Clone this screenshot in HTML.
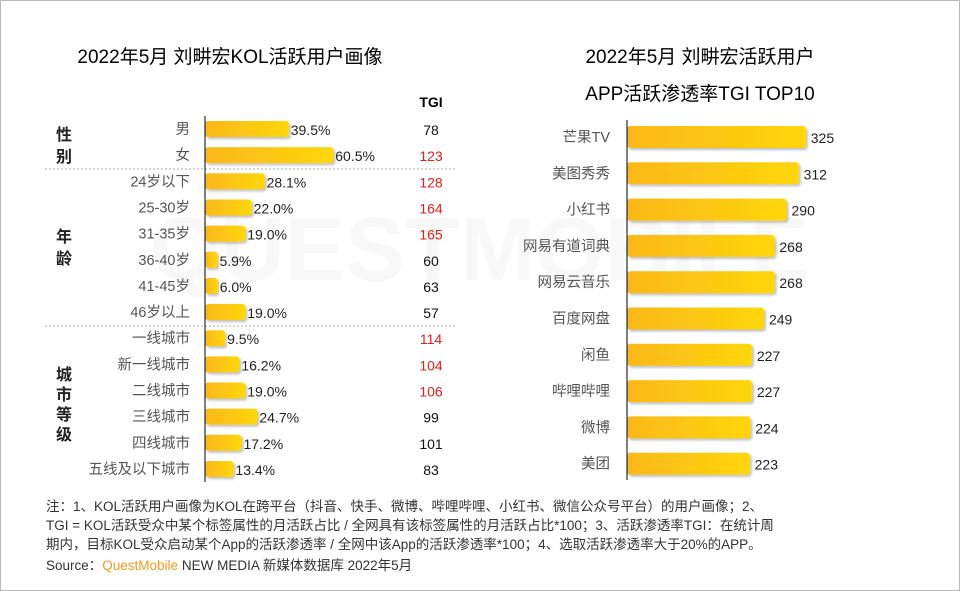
<!DOCTYPE html>
<html><head><meta charset="utf-8"><style>
body{margin:0;background:#fff}
svg{display:block;font-family:"Liberation Sans","Noto Sans CJK SC",sans-serif}
</style></head><body>
<svg id="c" width="960" height="591" viewBox="0 0 960 591">
<defs><linearGradient id="g" x1="0" x2="1"><stop offset="0" stop-color="#fbb81a"/><stop offset="1" stop-color="#fed60b"/></linearGradient>
<filter id="sh" x="-5%" y="-20%" width="115%" height="160%"><feDropShadow dx="2" dy="2" stdDeviation="1.2" flood-color="#000" flood-opacity="0.25"/></filter></defs>
<rect x="0.5" y="0.5" width="959" height="590" fill="#fff" stroke="#bbb"/>
<text x="480" y="280" font-size="90" fill="#f8f8f8" text-anchor="middle" font-weight="bold">QUESTMOBILE</text>
<text x="230" y="63" font-size="19" text-anchor="middle" fill="#000">2022年5月 刘畊宏KOL活跃用户画像</text>
<text x="700" y="63" font-size="19" text-anchor="middle" fill="#000">2022年5月 刘畊宏活跃用户</text>
<text x="700" y="100" font-size="19" text-anchor="middle" fill="#000">APP活跃渗透率TGI TOP10</text>
<text x="431" y="107" font-size="14" font-weight="bold" text-anchor="middle">TGI</text>
<line x1="45" x2="455" y1="169" y2="169" stroke="#aaa" stroke-dasharray="2,2"/>
<line x1="45" x2="455" y1="326" y2="326" stroke="#aaa" stroke-dasharray="2,2"/>
<g font-size="16" font-weight="bold" fill="#222" text-anchor="middle">
<text x="64" y="140"><tspan x="64">性</tspan><tspan x="64" dy="22">别</tspan></text>
<text x="64" y="242"><tspan x="64">年</tspan><tspan x="64" dy="22">龄</tspan></text>
<text x="64" y="380"><tspan x="64">城</tspan><tspan x="64" dy="20">市</tspan><tspan x="64" dy="20">等</tspan><tspan x="64" dy="20">级</tspan></text>
</g>
<g id="L"></g><g id="R"></g>
<line x1="205" x2="205" y1="116" y2="482" stroke="#000"/>
<line x1="627" x2="627" y1="120" y2="480" stroke="#000"/>
<g font-size="13.5" fill="#333">
<text x="46" y="511">注：1、KOL活跃用户画像为KOL在跨平台（抖音、快手、微博、哔哩哔哩、小红书、微信公众号平台）的用户画像；2、</text>
<text x="46" y="530">TGI = KOL活跃受众中某个标签属性的月活跃占比 / 全网具有该标签属性的月活跃占比*100；3、活跃渗透率TGI：在统计周</text>
<text x="46" y="549">期内，目标KOL受众启动某个App的活跃渗透率 / 全网中该App的活跃渗透率*100；4、选取活跃渗透率大于20%的APP。</text>
<text x="46" y="570">Source：<tspan fill="#f39a1e">QuestMobile</tspan> NEW MEDIA 新媒体数据库 2022年5月</text>
</g>
</svg>
<script>
const leftCats=["男","女","24岁以下","25-30岁","31-35岁","36-40岁","41-45岁","46岁以上","一线城市","新一线城市","二线城市","三线城市","四线城市","五线及以下城市"];
const leftVals=[39.5,60.5,28.1,22.0,19.0,5.9,6.0,19.0,9.5,16.2,19.0,24.7,17.2,13.4];
const leftTgi=[78,123,128,164,165,60,63,57,114,104,106,99,101,83];
const rightCats=["芒果TV","美图秀秀","小红书","网易有道词典","网易云音乐","百度网盘","闲鱼","哔哩哔哩","微博","美团"];
const rightVals=[325,312,290,268,268,249,227,227,224,223];
const NS="http://www.w3.org/2000/svg";
function mk(p,t,a,txt){const e=document.createElementNS(NS,t);for(const k in a)e.setAttribute(k,a[k]);if(txt!=null)e.textContent=txt;p.appendChild(e);return e;}
const lx=v=>205+v*2.12, ly=i=>129+i*26.15;
const rx=v=>627+v*0.55, ry=i=>137+i*36.3;
const L=document.getElementById('L'),R=document.getElementById('R');
leftCats.forEach((c,i)=>{
 const y=ly(i);
 const b=mk(L,'rect',{x:205,y:y-8,width:lx(leftVals[i])-205,height:16,rx:3,fill:'url(#g)',filter:'url(#sh)'});
 
 
 const t=mk(L,'text',{x:190,y:y+5,'font-size':14.5,fill:'#555','text-anchor':'end'},c);
 
 
 const v=mk(L,'text',{x:lx(leftVals[i])+2,y:y+6,'font-size':14,fill:'#222'},leftVals[i].toFixed(1)+'%');
 
 
 const g=mk(L,'text',{x:431,y:y+6,'font-size':14,fill:leftTgi[i]>102?'#e0201a':'#111','text-anchor':'middle'},leftTgi[i]);
 
 
});
rightCats.forEach((c,i)=>{
 const y=ry(i);
 const b=mk(R,'rect',{x:627,y:y-11,width:rx(rightVals[i])-627,height:22,rx:3,fill:'url(#g)',filter:'url(#sh)'});
 
 
 const t=mk(R,'text',{x:610,y:y+5,'font-size':14.5,fill:'#555','text-anchor':'end'},c);
 
 
 const v=mk(R,'text',{x:rx(rightVals[i])+5,y:y+6,'font-size':14,fill:'#222'},rightVals[i]);
 
 
});
</script>
</body></html>
